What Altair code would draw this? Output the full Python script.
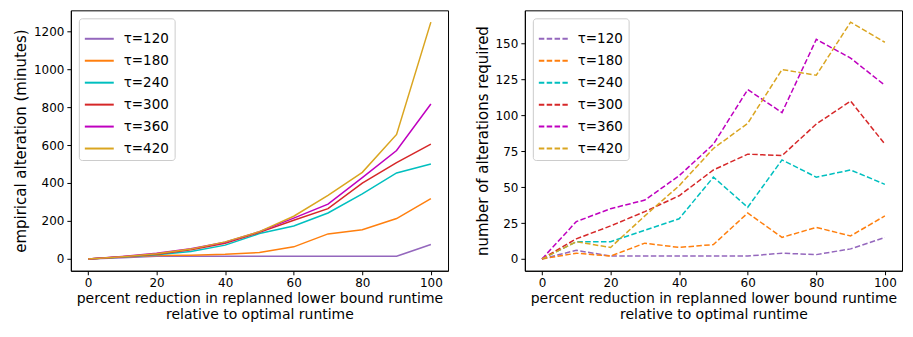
import altair as alt
import pandas as pd

x_vals = [0, 10, 20, 30, 40, 50, 60, 70, 80, 90, 100]
taus = ["τ=120", "τ=180", "τ=240", "τ=300", "τ=360", "τ=420"]
colors = ["#9467bd", "#ff7f0e", "#00bfbf", "#d62728", "#bf00bf", "#daa520"]

# empirical alteration (minutes)
alt_120 = [0, 7, 14, 14, 14, 14, 14, 14, 14, 14, 76]
alt_180 = [0, 10, 18, 20, 25, 34, 64, 132, 154, 213, 318]
alt_240 = [0, 10, 22, 40, 73, 134, 174, 242, 343, 453, 500]
alt_300 = [0, 12, 25, 49, 83, 140, 204, 265, 399, 507, 605]
alt_360 = [0, 13, 30, 54, 88, 144, 215, 289, 428, 571, 816]
alt_420 = [0, 12, 27, 52, 90, 144, 225, 335, 456, 656, 1247]

# number of alterations required
num_120 = [0, 6, 2, 2, 2, 2, 2, 4, 3, 7, 15]
num_180 = [0, 4, 2, 11, 8, 10, 32, 15, 22, 16, 30]
num_240 = [0, 12, 12, 20, 28, 57, 36, 69, 57, 62, 52]
num_300 = [0, 14, 23, 33, 44, 62, 73, 72, 94, 110, 80]
num_360 = [0, 26, 35, 41, 58, 80, 118, 102, 153, 140, 121]
num_420 = [0, 12, 8, 30, 51, 77, 94.5, 132, 128, 165, 151]

left_series = [alt_120, alt_180, alt_240, alt_300, alt_360, alt_420]
right_series = [num_120, num_180, num_240, num_300, num_360, num_420]


def long(series):
    rows = []
    for t, vals in zip(taus, series):
        for xv, v in zip(x_vals, vals):
            rows.append({"x": xv, "tau": t, "v": v})
    return pd.DataFrame(rows)


df_l = long(left_series)
df_r = long(right_series)

x_title = ["percent reduction in replanned lower bound runtime", "relative to optimal runtime"]

xenc = alt.X("x:Q", title=x_title,
             scale=alt.Scale(domain=[-5, 105], nice=False, zero=False),
             axis=alt.Axis(values=[0, 20, 40, 60, 80, 100], format="d",
                           titlePadding=3, titleFontSize=14, labelPadding=3))


def legend(dash=None):
    kw = dict(orient="top-left", offset=8, title=None, symbolType="stroke",
              symbolSize=841, symbolStrokeWidth=2, labelFontSize=13.5,
              labelFont="DejaVu Sans", labelColor="black", labelOffset=9,
              fillColor="white", strokeColor="#cccccc", padding=5,
              cornerRadius=3, rowPadding=-0.5)
    if dash:
        kw["symbolDash"] = dash
    return alt.Legend(**kw)


color_l = alt.Color("tau:N", scale=alt.Scale(domain=taus, range=colors), legend=legend(), sort=taus)
color_r = alt.Color("tau:N", scale=alt.Scale(domain=taus, range=colors), legend=legend([5.5, 2.4]), sort=taus)

left = alt.Chart(df_l).mark_line(strokeWidth=1.5).encode(
    x=xenc,
    y=alt.Y("v:Q", title="empirical alteration (minutes)",
            scale=alt.Scale(domain=[-62, 1309], nice=False, zero=False),
            axis=alt.Axis(values=[0, 200, 400, 600, 800, 1000, 1200], format="d", titlePadding=5)),
    color=color_l,
).properties(width=378, height=261)

right = alt.Chart(df_r).mark_line(strokeWidth=1.5, strokeDash=[5.5, 2.4]).encode(
    x=xenc,
    y=alt.Y("v:Q", title="number of alterations required",
            scale=alt.Scale(domain=[-8.25, 173.25], nice=False, zero=False),
            axis=alt.Axis(values=[0, 25, 50, 75, 100, 125, 150], format="d", titlePadding=5)),
    color=color_r,
).properties(width=378, height=261)

chart = alt.hconcat(left, right, spacing=25).resolve_scale(color="independent").properties(
    padding={"left": 4, "top": 1, "right": 2, "bottom": 0}
).configure_axis(
    grid=False,
    labelFont="DejaVu Sans", titleFont="DejaVu Sans",
    labelFontSize=12, titleFontSize=15, titleFontWeight="normal",
    titleLineHeight=15.5,
    labelColor="black", titleColor="black",
    tickColor="black", domainColor="black", tickSize=4,
    labelPadding=3,
).configure_view(stroke="black", strokeWidth=1)

chart.save("out.html", embed_options={"renderer": "svg", "actions": False})
